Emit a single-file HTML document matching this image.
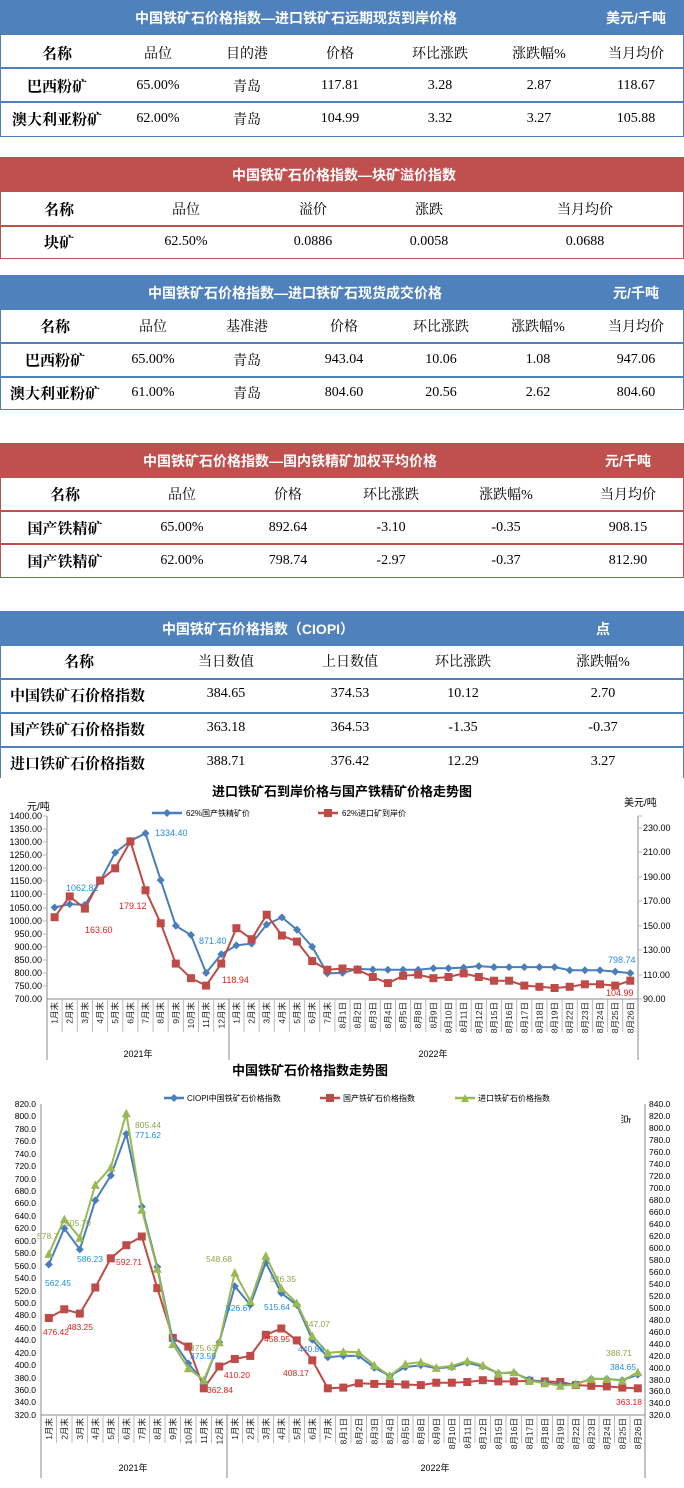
<!DOCTYPE html>
<html><head><meta charset="utf-8">
<style>
*{margin:0;padding:0;box-sizing:border-box}
body{width:684px;height:1488px;background:#fff;position:relative;overflow:hidden;font-family:"Liberation Serif","Noto Serif CJK SC",serif;color:#000}
.bar{position:absolute;left:0;width:684px;color:#fff;font-weight:bold;font-size:14px;font-family:"Liberation Sans","Noto Sans CJK SC",sans-serif}
.b{background:#4F81BD}.r{background:#C0504D}
.box{position:absolute;left:0;width:684px;border:1.5px solid}
.bb{border-color:#4F81BD}.rb{border-color:#C0504D}
.ln{position:absolute;left:0;width:684px;height:1.5px}
.lb{background:#4F81BD}.lr{background:#C0504D}
.c{position:absolute;transform:translate(-50%,-50%);white-space:nowrap;font-size:14px}
.n{font-weight:bold;font-size:15px}
.lt{position:absolute;transform:translate(0,-50%);white-space:nowrap;font-weight:bold;font-size:15px}
.bar .c{font-size:14px;font-weight:bold}
svg text{font-family:"Liberation Sans","Noto Sans CJK SC",sans-serif}
</style></head><body>

<!-- Table 1 -->
<div class="bar b" style="top:0;height:35px"><span class="c" style="left:296px;top:18px">中国铁矿石价格指数—进口铁矿石远期现货到岸价格</span><span class="c" style="left:636px;top:18px">美元/千吨</span></div>
<div class="box bb" style="top:34px;height:103px"></div>
<div class="ln lb" style="top:67px"></div><div class="ln lb" style="top:101px"></div>
<span class="c n" style="left:57px;top:53px">名称</span><span class="c" style="left:158px;top:53px">品位</span><span class="c" style="left:247px;top:53px">目的港</span><span class="c" style="left:340px;top:53px">价格</span><span class="c" style="left:440px;top:53px">环比涨跌</span><span class="c" style="left:539px;top:53px">涨跌幅%</span><span class="c" style="left:636px;top:53px">当月均价</span>
<span class="c n" style="left:57px;top:86px">巴西粉矿</span><span class="c" style="left:158px;top:86px">65.00%</span><span class="c" style="left:247px;top:86px">青岛</span><span class="c" style="left:340px;top:86px">117.81</span><span class="c" style="left:440px;top:86px">3.28</span><span class="c" style="left:539px;top:86px">2.87</span><span class="c" style="left:636px;top:86px">118.67</span>
<span class="c n" style="left:57px;top:119px">澳大利亚粉矿</span><span class="c" style="left:158px;top:119px">62.00%</span><span class="c" style="left:247px;top:119px">青岛</span><span class="c" style="left:340px;top:119px">104.99</span><span class="c" style="left:440px;top:119px">3.32</span><span class="c" style="left:539px;top:119px">3.27</span><span class="c" style="left:636px;top:119px">105.88</span>

<!-- Table 2 -->
<div class="bar r" style="top:157px;height:35px"><span class="c" style="left:344px;top:18px">中国铁矿石价格指数—块矿溢价指数</span></div>
<div class="box rb" style="top:191px;height:68px"></div>
<div class="ln lr" style="top:225px"></div>
<span class="c n" style="left:59px;top:209px">名称</span><span class="c" style="left:186px;top:209px">品位</span><span class="c" style="left:313px;top:209px">溢价</span><span class="c" style="left:429px;top:209px">涨跌</span><span class="c" style="left:585px;top:209px">当月均价</span>
<span class="c n" style="left:59px;top:242px">块矿</span><span class="c" style="left:186px;top:242px">62.50%</span><span class="c" style="left:313px;top:242px">0.0886</span><span class="c" style="left:429px;top:242px">0.0058</span><span class="c" style="left:585px;top:242px">0.0688</span>

<!-- Table 3 -->
<div class="bar b" style="top:275px;height:35px"><span class="c" style="left:295px;top:18px">中国铁矿石价格指数—进口铁矿石现货成交价格</span><span class="c" style="left:636px;top:18px">元/千吨</span></div>
<div class="box bb" style="top:309px;height:101px"></div>
<div class="ln lb" style="top:342px"></div><div class="ln lb" style="top:376px"></div>
<span class="c n" style="left:55px;top:326px">名称</span><span class="c" style="left:153px;top:326px">品位</span><span class="c" style="left:247px;top:326px">基准港</span><span class="c" style="left:344px;top:326px">价格</span><span class="c" style="left:441px;top:326px">环比涨跌</span><span class="c" style="left:538px;top:326px">涨跌幅%</span><span class="c" style="left:636px;top:326px">当月均价</span>
<span class="c n" style="left:55px;top:360px">巴西粉矿</span><span class="c" style="left:153px;top:360px">65.00%</span><span class="c" style="left:247px;top:360px">青岛</span><span class="c" style="left:344px;top:360px">943.04</span><span class="c" style="left:441px;top:360px">10.06</span><span class="c" style="left:538px;top:360px">1.08</span><span class="c" style="left:636px;top:360px">947.06</span>
<span class="c n" style="left:55px;top:393px">澳大利亚粉矿</span><span class="c" style="left:153px;top:393px">61.00%</span><span class="c" style="left:247px;top:393px">青岛</span><span class="c" style="left:344px;top:393px">804.60</span><span class="c" style="left:441px;top:393px">20.56</span><span class="c" style="left:538px;top:393px">2.62</span><span class="c" style="left:636px;top:393px">804.60</span>

<!-- Table 4 -->
<div class="bar r" style="top:443px;height:35px"><span class="c" style="left:290px;top:18px">中国铁矿石价格指数—国内铁精矿加权平均价格</span><span class="c" style="left:628px;top:18px">元/千吨</span></div>
<div class="box rb" style="top:477px;height:101px"></div>
<div class="ln lr" style="top:510px"></div><div class="ln lr" style="top:543px;height:2px"></div>
<span class="c n" style="left:65px;top:494px">名称</span><span class="c" style="left:182px;top:494px">品位</span><span class="c" style="left:288px;top:494px">价格</span><span class="c" style="left:391px;top:494px">环比涨跌</span><span class="c" style="left:506px;top:494px">涨跌幅%</span><span class="c" style="left:628px;top:494px">当月均价</span>
<span class="c n" style="left:65px;top:528px">国产铁精矿</span><span class="c" style="left:182px;top:528px">65.00%</span><span class="c" style="left:288px;top:528px">892.64</span><span class="c" style="left:391px;top:528px">-3.10</span><span class="c" style="left:506px;top:528px">-0.35</span><span class="c" style="left:628px;top:528px">908.15</span>
<span class="c n" style="left:65px;top:561px">国产铁精矿</span><span class="c" style="left:182px;top:561px">62.00%</span><span class="c" style="left:288px;top:561px">798.74</span><span class="c" style="left:391px;top:561px">-2.97</span><span class="c" style="left:506px;top:561px">-0.37</span><span class="c" style="left:628px;top:561px">812.90</span>

<!-- Table 5 -->
<div class="bar b" style="top:611px;height:35px"><span class="c" style="left:258px;top:18px">中国铁矿石价格指数（CIOPI）</span><span class="c" style="left:603px;top:18px">点</span></div>
<div class="box bb" style="top:645px;height:140px;border-bottom:none"></div>
<div class="ln lb" style="top:678px"></div><div class="ln lb" style="top:712px"></div><div class="ln lb" style="top:746px"></div>
<span class="c n" style="left:79px;top:661px">名称</span><span class="c" style="left:226px;top:661px">当日数值</span><span class="c" style="left:350px;top:661px">上日数值</span><span class="c" style="left:463px;top:661px">环比涨跌</span><span class="c" style="left:603px;top:661px">涨跌幅%</span>
<span class="lt" style="left:10px;top:695px">中国铁矿石价格指数</span><span class="c" style="left:226px;top:694px">384.65</span><span class="c" style="left:350px;top:694px">374.53</span><span class="c" style="left:463px;top:694px">10.12</span><span class="c" style="left:603px;top:694px">2.70</span>
<span class="lt" style="left:10px;top:729px">国产铁矿石价格指数</span><span class="c" style="left:226px;top:728px">363.18</span><span class="c" style="left:350px;top:728px">364.53</span><span class="c" style="left:463px;top:728px">-1.35</span><span class="c" style="left:603px;top:728px">-0.37</span>
<span class="lt" style="left:10px;top:763px">进口铁矿石价格指数</span><span class="c" style="left:226px;top:762px">388.71</span><span class="c" style="left:350px;top:762px">376.42</span><span class="c" style="left:463px;top:762px">12.29</span><span class="c" style="left:603px;top:762px">3.27</span>

<svg style="position:absolute;left:0;top:0" width="684" height="1488" viewBox="0 0 684 1488">
<defs>
<marker id="md" markerUnits="userSpaceOnUse" markerWidth="10" markerHeight="10" refX="5" refY="5"><path d="M5 1L9 5L5 9L1 5Z" fill="#4A7EBB"/></marker>
<marker id="ms" markerUnits="userSpaceOnUse" markerWidth="10" markerHeight="10" refX="5" refY="5"><rect x="1" y="1" width="8" height="8" fill="#BE4B48"/></marker>
<marker id="mt" markerUnits="userSpaceOnUse" markerWidth="10" markerHeight="10" refX="5" refY="5"><path d="M5 0.5L9.5 9L0.5 9Z" fill="#98B954"/></marker>
<marker id="ms2" markerUnits="userSpaceOnUse" markerWidth="10" markerHeight="10" refX="5" refY="5"><rect x="1" y="1" width="8" height="8" fill="#BE4B48"/></marker>
</defs>
<rect x="0" y="778" width="684" height="710" fill="#fff"/>

<!-- Chart 1 -->
<text x="342" y="796" font-size="13" font-weight="bold" text-anchor="middle">进口铁矿石到岸价格与国产铁精矿价格走势图</text>
<text x="27" y="810" font-size="10">元/吨</text>
<text x="624" y="806" font-size="10">美元/吨</text>
<line x1="152" y1="813" x2="182" y2="813" stroke="#4A7EBB" stroke-width="2.5"/><path d="M167 809L171 813L167 817L163 813Z" fill="#4A7EBB"/><text x="186" y="816" font-size="8">62%国产铁精矿价</text>
<line x1="318" y1="813" x2="338" y2="813" stroke="#BE4B48" stroke-width="2.5"/><rect x="324" y="809" width="8" height="8" fill="#BE4B48"/><text x="342" y="816" font-size="8">62%进口矿到岸价</text>
<g font-size="9" text-anchor="end">
<text x="42" y="819">1400.00</text><text x="42" y="832">1350.00</text><text x="42" y="845">1300.00</text><text x="42" y="858">1250.00</text><text x="42" y="871">1200.00</text><text x="42" y="884">1150.00</text><text x="42" y="897">1100.00</text><text x="42" y="911">1050.00</text><text x="42" y="924">1000.00</text><text x="42" y="937">950.00</text><text x="42" y="950">900.00</text><text x="42" y="963">850.00</text><text x="42" y="976">800.00</text><text x="42" y="989">750.00</text><text x="42" y="1002">700.00</text>
</g>
<g font-size="9">
<text x="643" y="831">230.00</text><text x="643" y="855">210.00</text><text x="643" y="880">190.00</text><text x="643" y="904">170.00</text><text x="643" y="929">150.00</text><text x="643" y="953">130.00</text><text x="643" y="978">110.00</text><text x="643" y="1002">90.00</text>
</g>
<g stroke="#888" stroke-width="1">
<line x1="47" y1="816" x2="47" y2="1060"/><line x1="638" y1="816" x2="638" y2="1060"/>
<line x1="47" y1="999" x2="638" y2="999"/><line x1="229" y1="999" x2="229" y2="1060"/>
</g>
<g stroke="#bbb" stroke-width="1">
<path d="M62.1 999V1032M77.3 999V1032M92.5 999V1032M107.6 999V1032M122.8 999V1032M137.9 999V1032M153.1 999V1032M168.2 999V1032M183.4 999V1032M198.5 999V1032M213.7 999V1032M244 999V1032M259.1 999V1032M274.3 999V1032M289.4 999V1032M304.6 999V1032M319.7 999V1032M334.9 999V1032M350 999V1032M365.2 999V1032M380.3 999V1032M395.5 999V1032M410.6 999V1032M425.8 999V1032M440.9 999V1032M456.1 999V1032M471.2 999V1032M486.4 999V1032M501.5 999V1032M516.7 999V1032M531.8 999V1032M547 999V1032M562.1 999V1032M577.3 999V1032M592.4 999V1032M607.6 999V1032M622.7 999V1032"/>
<path d="M638 816h4M638 828h4M638 852h4M638 877h4M638 901h4M638 926h4M638 950h4M638 975h4M638 999h4M43 816h4M43 829h4M43 842h4M43 855h4M43 868h4M43 881h4M43 894h4M43 908h4M43 921h4M43 934h4M43 947h4M43 960h4M43 973h4M43 986h4"/>
</g>
<g font-size="8.5" text-anchor="end" dominant-baseline="central" fill="#222">
<text transform="translate(54.6,1002) rotate(-90)">1月末</text><text transform="translate(69.7,1002) rotate(-90)">2月末</text><text transform="translate(84.9,1002) rotate(-90)">3月末</text><text transform="translate(100.1,1002) rotate(-90)">4月末</text><text transform="translate(115.2,1002) rotate(-90)">5月末</text><text transform="translate(130.4,1002) rotate(-90)">6月末</text><text transform="translate(145.5,1002) rotate(-90)">7月末</text><text transform="translate(160.7,1002) rotate(-90)">8月末</text><text transform="translate(175.8,1002) rotate(-90)">9月末</text><text transform="translate(191,1002) rotate(-90)">10月末</text><text transform="translate(206.1,1002) rotate(-90)">11月末</text><text transform="translate(221.3,1002) rotate(-90)">12月末</text>
<text transform="translate(236.4,1002) rotate(-90)">1月末</text><text transform="translate(251.6,1002) rotate(-90)">2月末</text><text transform="translate(266.7,1002) rotate(-90)">3月末</text><text transform="translate(281.9,1002) rotate(-90)">4月末</text><text transform="translate(297,1002) rotate(-90)">5月末</text><text transform="translate(312.2,1002) rotate(-90)">6月末</text><text transform="translate(327.3,1002) rotate(-90)">7月末</text>
<text transform="translate(342.5,1002) rotate(-90)">8月1日</text><text transform="translate(357.6,1002) rotate(-90)">8月2日</text><text transform="translate(372.8,1002) rotate(-90)">8月3日</text><text transform="translate(387.9,1002) rotate(-90)">8月4日</text><text transform="translate(403.1,1002) rotate(-90)">8月5日</text><text transform="translate(418.2,1002) rotate(-90)">8月8日</text><text transform="translate(433.4,1002) rotate(-90)">8月9日</text><text transform="translate(448.5,1002) rotate(-90)">8月10日</text><text transform="translate(463.7,1002) rotate(-90)">8月11日</text><text transform="translate(478.8,1002) rotate(-90)">8月12日</text><text transform="translate(494,1002) rotate(-90)">8月15日</text><text transform="translate(509.1,1002) rotate(-90)">8月16日</text><text transform="translate(524.3,1002) rotate(-90)">8月17日</text><text transform="translate(539.4,1002) rotate(-90)">8月18日</text><text transform="translate(554.6,1002) rotate(-90)">8月19日</text><text transform="translate(569.7,1002) rotate(-90)">8月22日</text><text transform="translate(584.9,1002) rotate(-90)">8月23日</text><text transform="translate(600,1002) rotate(-90)">8月24日</text><text transform="translate(615.2,1002) rotate(-90)">8月25日</text><text transform="translate(630.3,1002) rotate(-90)">8月26日</text>
</g>
<text x="138" y="1057" font-size="9" text-anchor="middle">2021年</text>
<text x="433" y="1057" font-size="9" text-anchor="middle">2022年</text>
<polyline fill="none" stroke="#4A7EBB" stroke-width="2" marker-start="url(#md)" marker-mid="url(#md)" marker-end="url(#md)" points="54.6,907.5 69.7,904.1 84.9,904.9 100.1,881.4 115.2,852.6 130.4,840.9 145.5,833.3 160.7,880.1 175.8,925.8 191,935 206.1,972.9 221.3,954.3 236.4,945.4 251.6,943.6 266.7,924.5 281.9,917.4 297,929.7 312.2,946.7 327.3,973.4 342.5,972.9 357.6,968.9 372.8,969.5 387.9,969.7 403.1,969.7 418.2,969.7 433.4,968.2 448.5,968.2 463.7,967.6 478.8,966.1 494,967.1 509.1,967.1 524.3,967.1 539.4,967.1 554.6,967.1 569.7,970.2 584.9,970.2 600,970.2 615.2,971.6 630.3,973.1"/>
<polyline fill="none" stroke="#BE4B48" stroke-width="2" marker-start="url(#ms)" marker-mid="url(#ms)" marker-end="url(#ms)" points="54.6,917.2 69.7,896.4 84.9,908.6 100.1,880.5 115.2,868.3 130.4,841.4 145.5,890.3 160.7,923.3 175.8,963.6 191,978.2 206.1,985.6 221.3,963.6 236.4,928.2 251.6,939.2 266.7,914.7 281.9,935.5 297,941.6 312.2,961.1 327.3,969.7 342.5,968.5 357.6,969.7 372.8,977 387.9,983.1 403.1,975.8 418.2,974.6 433.4,978.2 448.5,977 463.7,973.4 478.8,977 494,980.7 509.1,980.7 524.3,985.6 539.4,986.8 554.6,988 569.7,986.8 584.9,984.3 600,984.3 615.2,985.6 630.3,980.7"/>
<g font-size="9">
<text x="155" y="836" fill="#1F8FE0">1334.40</text><text x="66" y="891" fill="#1F8FE0">1062.82</text><text x="199" y="944" fill="#1F8FE0">871.40</text><text x="608" y="963" fill="#1F8FE0">798.74</text>
<text x="119" y="909" fill="#E0201C">179.12</text><text x="85" y="933" fill="#E0201C">163.60</text><text x="222" y="983" fill="#E0201C">118.94</text><text x="606" y="996" fill="#E0201C">104.99</text>
</g>

<!-- Chart 2 -->
<text x="310" y="1075" font-size="13" font-weight="bold" text-anchor="middle">中国铁矿石价格指数走势图</text>
<line x1="164" y1="1098" x2="184" y2="1098" stroke="#4A7EBB" stroke-width="2.5"/><path d="M174 1094L178 1098L174 1102L170 1098Z" fill="#4A7EBB"/><text x="187" y="1101" font-size="8">CIOPI中国铁矿石价格指数</text>
<line x1="320" y1="1098" x2="340" y2="1098" stroke="#BE4B48" stroke-width="2.5"/><rect x="326" y="1094" width="8" height="8" fill="#BE4B48"/><text x="343" y="1101" font-size="8">国产铁矿石价格指数</text>
<line x1="455" y1="1098" x2="475" y2="1098" stroke="#98B954" stroke-width="2.5"/><path d="M465 1094L469 1102L461 1102Z" fill="#98B954"/><text x="478" y="1101" font-size="8">进口铁矿石价格指数</text>
<text x="626" y="1118" font-size="10" transform="rotate(90 626 1114)">点</text>
<g font-size="8.5" text-anchor="end">
<text x="36" y="1107">820.0</text><text x="36" y="1119">800.0</text><text x="36" y="1132">780.0</text><text x="36" y="1144">760.0</text><text x="36" y="1157">740.0</text><text x="36" y="1169">720.0</text><text x="36" y="1182">700.0</text><text x="36" y="1194">680.0</text><text x="36" y="1206">660.0</text><text x="36" y="1219">640.0</text><text x="36" y="1231">620.0</text><text x="36" y="1244">600.0</text><text x="36" y="1256">580.0</text><text x="36" y="1269">560.0</text><text x="36" y="1281">540.0</text><text x="36" y="1294">520.0</text><text x="36" y="1306">500.0</text><text x="36" y="1318">480.0</text><text x="36" y="1331">460.0</text><text x="36" y="1343">440.0</text><text x="36" y="1356">420.0</text><text x="36" y="1368">400.0</text><text x="36" y="1381">380.0</text><text x="36" y="1393">360.0</text><text x="36" y="1405">340.0</text><text x="36" y="1418">320.0</text>
</g>
<g font-size="8.5">
<text x="649" y="1107">840.0</text><text x="649" y="1119">820.0</text><text x="649" y="1131">800.0</text><text x="649" y="1143">780.0</text><text x="649" y="1155">760.0</text><text x="649" y="1167">740.0</text><text x="649" y="1179">720.0</text><text x="649" y="1191">700.0</text><text x="649" y="1203">680.0</text><text x="649" y="1215">660.0</text><text x="649" y="1227">640.0</text><text x="649" y="1239">620.0</text><text x="649" y="1251">600.0</text><text x="649" y="1263">580.0</text><text x="649" y="1275">560.0</text><text x="649" y="1287">540.0</text><text x="649" y="1299">520.0</text><text x="649" y="1311">500.0</text><text x="649" y="1323">480.0</text><text x="649" y="1335">460.0</text><text x="649" y="1347">440.0</text><text x="649" y="1359">420.0</text><text x="649" y="1371">400.0</text><text x="649" y="1383">380.0</text><text x="649" y="1394">360.0</text><text x="649" y="1406">340.0</text><text x="649" y="1418">320.0</text>
</g>
<g stroke="#888" stroke-width="1">
<line x1="41" y1="1104" x2="41" y2="1478"/><line x1="645" y1="1104" x2="645" y2="1478"/>
<line x1="41" y1="1415" x2="645" y2="1415"/><line x1="227" y1="1415" x2="227" y2="1478"/>
</g>
<g stroke="#bbb" stroke-width="1">
<path d="M56.5 1415V1443M72 1415V1443M87.5 1415V1443M103 1415V1443M118.5 1415V1443M134 1415V1443M149.5 1415V1443M165 1415V1443M180.5 1415V1443M196 1415V1443M211.5 1415V1443M242.5 1415V1443M258 1415V1443M273.5 1415V1443M289 1415V1443M304.5 1415V1443M320 1415V1443M335.5 1415V1443M351 1415V1443M366.5 1415V1443M382 1415V1443M397.5 1415V1443M413 1415V1443M428.5 1415V1443M444 1415V1443M459.5 1415V1443M475 1415V1443M490.5 1415V1443M506 1415V1443M521.5 1415V1443M537 1415V1443M552.5 1415V1443M568 1415V1443M583.5 1415V1443M599 1415V1443M614.5 1415V1443M630 1415V1443"/>
</g>
<g font-size="8.5" text-anchor="end" dominant-baseline="central" fill="#222">
<text transform="translate(48.8,1418) rotate(-90)">1月末</text><text transform="translate(64.3,1418) rotate(-90)">2月末</text><text transform="translate(79.8,1418) rotate(-90)">3月末</text><text transform="translate(95.3,1418) rotate(-90)">4月末</text><text transform="translate(110.8,1418) rotate(-90)">5月末</text><text transform="translate(126.3,1418) rotate(-90)">6月末</text><text transform="translate(141.8,1418) rotate(-90)">7月末</text><text transform="translate(157.3,1418) rotate(-90)">8月末</text><text transform="translate(172.8,1418) rotate(-90)">9月末</text><text transform="translate(188.3,1418) rotate(-90)">10月末</text><text transform="translate(203.8,1418) rotate(-90)">11月末</text><text transform="translate(219.3,1418) rotate(-90)">12月末</text>
<text transform="translate(234.8,1418) rotate(-90)">1月末</text><text transform="translate(250.3,1418) rotate(-90)">2月末</text><text transform="translate(265.8,1418) rotate(-90)">3月末</text><text transform="translate(281.3,1418) rotate(-90)">4月末</text><text transform="translate(296.8,1418) rotate(-90)">5月末</text><text transform="translate(312.3,1418) rotate(-90)">6月末</text><text transform="translate(327.8,1418) rotate(-90)">7月末</text>
<text transform="translate(343.3,1418) rotate(-90)">8月1日</text><text transform="translate(358.8,1418) rotate(-90)">8月2日</text><text transform="translate(374.3,1418) rotate(-90)">8月3日</text><text transform="translate(389.8,1418) rotate(-90)">8月4日</text><text transform="translate(405.3,1418) rotate(-90)">8月5日</text><text transform="translate(420.8,1418) rotate(-90)">8月8日</text><text transform="translate(436.3,1418) rotate(-90)">8月9日</text><text transform="translate(451.8,1418) rotate(-90)">8月10日</text><text transform="translate(467.3,1418) rotate(-90)">8月11日</text><text transform="translate(482.8,1418) rotate(-90)">8月12日</text><text transform="translate(498.3,1418) rotate(-90)">8月15日</text><text transform="translate(513.8,1418) rotate(-90)">8月16日</text><text transform="translate(529.3,1418) rotate(-90)">8月17日</text><text transform="translate(544.8,1418) rotate(-90)">8月18日</text><text transform="translate(560.3,1418) rotate(-90)">8月19日</text><text transform="translate(575.8,1418) rotate(-90)">8月22日</text><text transform="translate(591.3,1418) rotate(-90)">8月23日</text><text transform="translate(606.8,1418) rotate(-90)">8月24日</text><text transform="translate(622.3,1418) rotate(-90)">8月25日</text><text transform="translate(637.8,1418) rotate(-90)">8月26日</text>
</g>
<text x="133" y="1471" font-size="9" text-anchor="middle">2021年</text>
<text x="435" y="1471" font-size="9" text-anchor="middle">2022年</text>
<polyline fill="none" stroke="#BE4B48" stroke-width="2" marker-start="url(#ms2)" marker-mid="url(#ms2)" marker-end="url(#ms2)" points="48.8,1318 64.3,1309.3 79.8,1313.6 95.3,1287.5 110.8,1258.3 126.3,1245.2 141.8,1236.5 157.3,1288.1 172.8,1337.9 188.3,1346.6 203.8,1388.3 219.3,1366.5 234.8,1359 250.3,1355.9 265.8,1334.8 281.3,1328.5 296.8,1340.4 312.3,1360.3 327.8,1388.3 343.3,1387.6 358.8,1383.3 374.3,1383.9 389.8,1383.9 405.3,1384.5 420.8,1385.1 436.3,1382.7 451.8,1382.7 467.3,1382 482.8,1380.2 498.3,1381.4 513.8,1381.4 529.3,1380.8 544.8,1381.4 560.3,1382 575.8,1385.1 591.3,1385.8 606.8,1386.4 622.3,1387.6 637.8,1388.3"/>
<polyline fill="none" stroke="#4A7EBB" stroke-width="2" marker-start="url(#md)" marker-mid="url(#md)" marker-end="url(#md)" points="48.8,1264.5 64.3,1228.4 79.8,1249.5 95.3,1200.4 110.8,1175.5 126.3,1133.9 141.8,1206.6 157.3,1267 172.8,1340.4 188.3,1363.4 203.8,1382 219.3,1342.2 234.8,1286.2 250.3,1304.9 265.8,1262.6 281.3,1293.1 296.8,1304.9 312.3,1339.7 327.8,1357.2 343.3,1355.9 358.8,1355.9 374.3,1367.7 389.8,1375.8 405.3,1367.1 420.8,1365.2 436.3,1368.3 451.8,1367.1 467.3,1362.8 482.8,1366.5 498.3,1373.3 513.8,1372.7 529.3,1379.5 544.8,1382.7 560.3,1384.5 575.8,1383.9 591.3,1378.9 606.8,1378.9 622.3,1380.2 637.8,1374.6"/>
<polyline fill="none" stroke="#98B954" stroke-width="2" marker-start="url(#mt)" marker-mid="url(#mt)" marker-end="url(#mt)" points="48.8,1253.9 64.3,1219.1 79.8,1237.7 95.3,1184.9 110.8,1167.4 126.3,1113.3 141.8,1209.7 157.3,1268.8 172.8,1344.1 188.3,1368.3 203.8,1380.2 219.3,1342.2 234.8,1272.6 250.3,1301.2 265.8,1255.8 281.3,1288.1 296.8,1303 312.3,1336 327.8,1352.8 343.3,1351.6 358.8,1352.2 374.3,1365.2 389.8,1375.8 405.3,1364 420.8,1362.1 436.3,1367.7 451.8,1365.9 467.3,1360.9 482.8,1365.2 498.3,1373.3 513.8,1372.1 529.3,1380.8 544.8,1383.3 560.3,1385.8 575.8,1384.5 591.3,1378.9 606.8,1378.9 622.3,1380.8 637.8,1372.1"/>
<g font-size="8.5">
<text x="135" y="1128" fill="#8FA84A">805.44</text><text x="135" y="1138" fill="#1F8FE0">771.62</text>
<text x="37" y="1239" fill="#8FA84A">578.7</text><text x="65" y="1226" fill="#8FA84A">605.70</text>
<text x="77" y="1262" fill="#1F8FE0">586.23</text><text x="45" y="1286" fill="#1F8FE0">562.45</text>
<text x="116" y="1265" fill="#E0201C">592.71</text>
<text x="43" y="1335" fill="#E0201C">476.42</text><text x="67" y="1330" fill="#E0201C">483.25</text>
<text x="206" y="1262" fill="#8FA84A">548.68</text><text x="270" y="1282" fill="#8FA84A">526.35</text>
<text x="226" y="1311" fill="#1F8FE0">526.67</text><text x="264" y="1310" fill="#1F8FE0">515.64</text>
<text x="304" y="1327" fill="#8FA84A">447.07</text><text x="298" y="1352" fill="#1F8FE0">440.86</text>
<text x="264" y="1342" fill="#E0201C">458.95</text><text x="283" y="1376" fill="#E0201C">408.17</text>
<text x="224" y="1378" fill="#E0201C">410.20</text><text x="207" y="1393" fill="#E0201C">362.84</text>
<text x="190" y="1351" fill="#8FA84A">375.63</text><text x="190" y="1359" fill="#1F8FE0">373.59</text>
<text x="606" y="1356" fill="#8FA84A">388.71</text><text x="610" y="1370" fill="#1F8FE0">384.65</text><text x="616" y="1405" fill="#E0201C">363.18</text>
</g>
</svg>
</body></html>
